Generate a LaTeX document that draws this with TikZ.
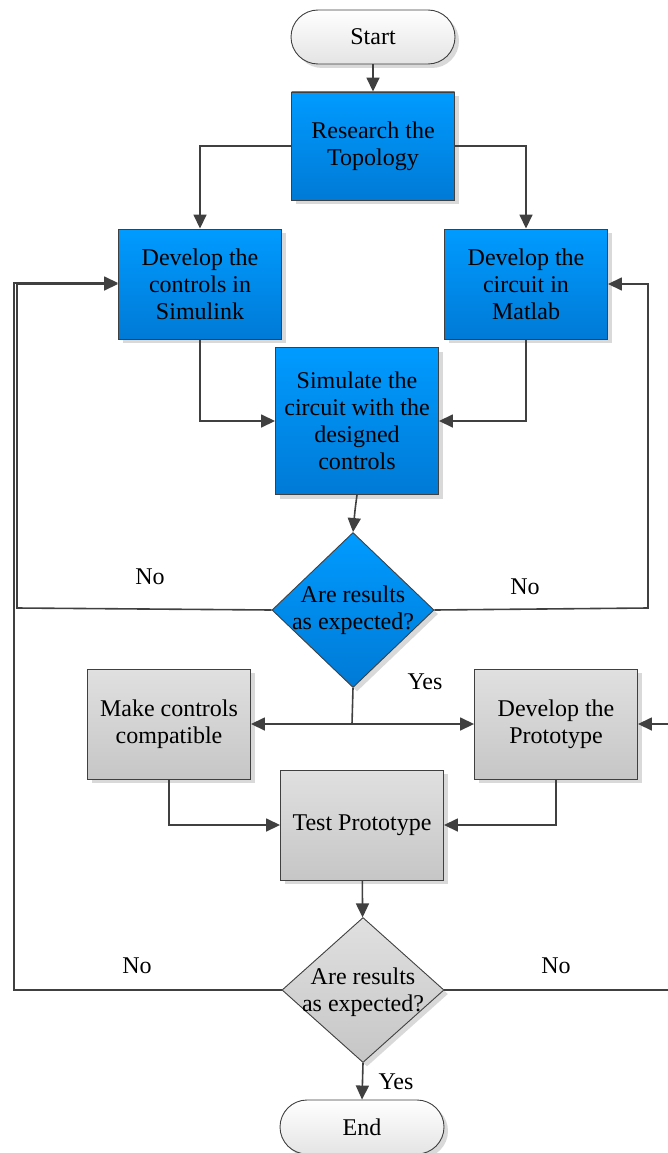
\documentclass[tikz,border=0pt]{standalone}
\usepackage{fontspec}
\setmainfont{Liberation Serif}
\usetikzlibrary{arrows.meta,shapes.geometric,shadows}
\definecolor{lineGray}{RGB}{64,64,64}
\definecolor{blueTop}{RGB}{0,155,255}
\definecolor{blueBot}{RGB}{0,122,214}
\definecolor{grayTop}{RGB}{224,224,224}
\definecolor{grayBot}{RGB}{198,198,198}
\definecolor{termBot}{RGB}{228,228,228}
\begin{document}
\begin{tikzpicture}[x=1pt,y=-1pt,
font=\rmfamily\fontsize{24}{27}\selectfont,
base/.style = {draw=lineGray, line width=0.9pt, align=center, inner sep=0pt,
        drop shadow={shadow xshift=4pt,shadow yshift=-4pt,fill=black!15,opacity=1}},
bluebox/.style = {base, top color=blueTop, bottom color=blueBot,
        minimum width=163pt, minimum height=110pt},
graybox/.style = {base, top color=grayTop, bottom color=grayBot,
        minimum width=163pt, minimum height=110pt},
terminal/.style = {base, top color=white, bottom color=termBot,
        rounded corners=27pt, minimum width=164pt, minimum height=54pt},
decision/.style = {base, diamond, minimum width=162pt},
conn/.style = {draw=lineGray, line width=1.6pt,
        -{Triangle[length=14pt,width=13pt]}},
line/.style = {draw=lineGray, line width=1.6pt}]

        \useasboundingbox (0,0) rectangle (668,1153);

        % blocks
        \node[terminal] (start) at (373,37) {Start};
        \node[bluebox, minimum height=108pt] (research) at (373,146) {Research the\\Topology};
        \node[bluebox] (simulink) at (200,284) {Develop the\\controls in\\Simulink};
        \node[bluebox] (matlab) at (526,284) {Develop the\\circuit in\\Matlab};
        \node[bluebox, minimum height=147pt] (simulate) at (357,421)
                {Simulate the\\circuit with the\\designed\\controls};
        \node[decision, top color=blueTop, bottom color=blueBot,
                minimum width=162pt, minimum height=155pt] (dec1) at (353,610) {};
        \node[align=center] (dec1text) at (353,610) {Are results\\as expected?};
        \node[graybox] (compat) at (169,724) {Make controls\\compatible};
        \node[graybox] (proto) at (556,724) {Develop the\\Prototype};
        \node[graybox] (test) at (362,825) {Test Prototype};
        \node[decision, top color=grayTop, bottom color=grayBot,
                minimum width=162pt, minimum height=145pt] (dec2) at (363,990) {};
        \node[align=center] (dec2text) at (363,992) {Are results\\as expected?};
        \node[terminal] (end) at (362,1127) {End};

        % corners of the loops
        \coordinate (L1) at (17,608);
        \coordinate (L2) at (14,990);
        \coordinate (L2top) at (14,283);
        \coordinate (R1) at (648,608);
        \coordinate (R2) at (672,990);
        \coordinate (Y1) at (352,724);

        \draw[conn] (start) -- (research);
        \draw[conn] (research.west) -| (simulink);
        \draw[conn] (research.east) -| (matlab);
        \draw[conn] (simulink) |- (simulate);
        \draw[conn] (matlab) |- (simulate);
        \draw[conn] (simulate.south) .. controls (355,510) .. (dec1.north);
        \draw[conn] (dec1.west) -- (L1) |- (simulink.west);
        \draw[conn] (dec1.east) -- (R1) |- (matlab.east);
        \draw[line] (dec1.south) -- (Y1);
        \draw[conn] (Y1) -- (compat.east);
        \draw[conn] (Y1) -- (proto.west);
        \draw[conn] (compat) |- (test);
        \draw[conn] (proto) |- (test);
        \draw[conn] (test) -- (dec2);
        \draw[conn] (dec2.west) -- (L2) -- (L2top) -- (L2top -| simulink.west);
        \draw[conn] (dec2.east) -- (R2) |- (proto.east);
        \draw[conn] (dec2.south) -- (end.north);

        % branch labels
        \node (no1) at (150,577) {No};
        \node (no2) at (525,587) {No};
        \node (yes1) at (425,682) {Yes};
        \node (no3) at (137,966) {No};
        \node (no4) at (556,966) {No};
        \node (yes2) at (396,1082) {Yes};

\end{tikzpicture}
\end{document}
